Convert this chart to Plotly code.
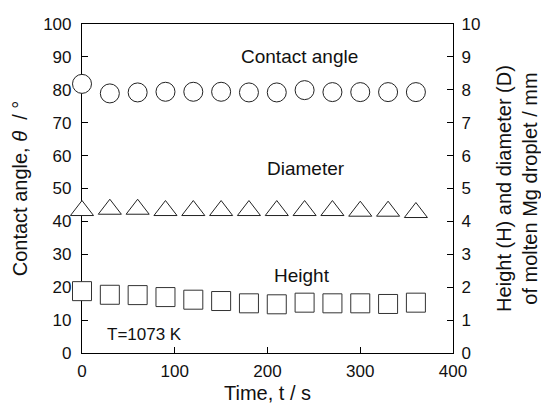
import plotly.graph_objects as go

# Sessile-drop measurement of molten Mg at 1073 K
time_s = [0, 30, 60, 90, 120, 150, 180, 210, 240, 270, 300, 330, 360]
contact_angle_deg = [81.8, 78.9, 79.2, 79.4, 79.4, 79.4, 79.2, 79.2, 79.9, 79.3, 79.3, 79.3, 79.3]
diameter_mm = [4.33, 4.37, 4.37, 4.33, 4.33, 4.33, 4.33, 4.33, 4.33, 4.33, 4.31, 4.31, 4.27]
height_mm = [1.88, 1.77, 1.76, 1.70, 1.62, 1.58, 1.51, 1.48, 1.53, 1.51, 1.51, 1.49, 1.53]

x_ticks = [0, 100, 200, 300, 400]
angle_ticks = [0, 10, 20, 30, 40, 50, 60, 70, 80, 90, 100]
mm_ticks = [0, 1, 2, 3, 4, 5, 6, 7, 8, 9, 10]

FONT = "Liberation Sans, Arial, sans-serif"
INK = "#111111"
EDGE = "#222222"

fig = go.Figure()

fig.add_trace(go.Scatter(
    x=time_s, y=contact_angle_deg, mode="markers", name="Contact angle",
    marker=dict(symbol="circle", size=19, color="white",
                line=dict(color=EDGE, width=1)),
    yaxis="y", cliponaxis=False,
))
fig.add_trace(go.Scatter(
    x=time_s, y=diameter_mm, mode="markers", name="Diameter",
    marker=dict(symbol="triangle-up", size=20, color="white",
                line=dict(color=EDGE, width=1)),
    yaxis="y2", cliponaxis=False,
))
fig.add_trace(go.Scatter(
    x=time_s, y=height_mm, mode="markers", name="Height",
    marker=dict(symbol="square", size=19, color="white",
                line=dict(color="#333333", width=1)),
    yaxis="y2", cliponaxis=False,
))

label_font = dict(family=FONT, size=19, color=INK)
fig.add_annotation(x=235, y=90, text="Contact angle", showarrow=False,
                   xref="x", yref="y", font=label_font)
fig.add_annotation(x=242, y=56.2, text="Diameter", showarrow=False,
                   xref="x", yref="y", font=label_font)
fig.add_annotation(x=237, y=23.7, text="Height", showarrow=False,
                   xref="x", yref="y", font=label_font)
fig.add_annotation(x=67, y=5.5, text="T=1073 K", showarrow=False,
                   xref="x", yref="y", font=dict(family=FONT, size=17, color=INK))

axis_common = dict(
    showgrid=False, zeroline=False, showline=True, automargin=False,
    linecolor="black", linewidth=1.2, layer="below traces",
    ticks="inside", tickwidth=1.2, tickcolor="black", ticklen=6,
    tickfont=dict(family=FONT, size=17, color=INK),
)

fig.update_layout(
    width=541, height=410,
    margin=dict(l=82, r=88, t=24, b=57),
    paper_bgcolor="white", plot_bgcolor="white",
    showlegend=False,
    xaxis=dict(
        **axis_common, range=[0, 400], tickvals=x_ticks, mirror=True,
        ticklabelstandoff=2,
        title=dict(text="Time, t / s", font=dict(family=FONT, size=20, color=INK),
                   standoff=6),
    ),
    yaxis=dict(
        **axis_common, range=[0, 100], tickvals=angle_ticks,
        ticklabelstandoff=6,
        title=dict(text="Contact angle, <i>θ</i>  / °",
                   font=dict(family=FONT, size=20, color=INK), standoff=10),
    ),
    yaxis2=dict(
        **axis_common, range=[0, 10], tickvals=mm_ticks,
        overlaying="y", side="right", ticklabelstandoff=4,
        title=dict(text="Height (H) and diameter (D)<br>of molten Mg droplet / mm",
                   font=dict(family=FONT, size=20, color=INK), standoff=18),
    ),
)

fig.write_html("out.html")
